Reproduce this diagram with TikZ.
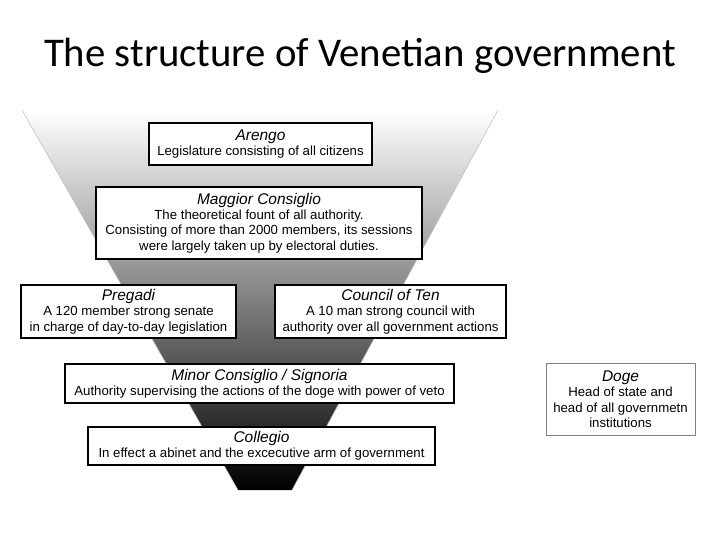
\documentclass[tikz,border=0pt]{standalone}
\usepackage{fontspec}
\setmainfont{Liberation Sans}
\newfontfamily\titlefont{Carlito}
\tikzset{
	box/.style={draw=black,fill=white,thick,align=center,inner sep=2pt,font=\fontsize{9.4}{11}\selectfont},
}
\newcommand{\boxhead}[1]{{\itshape\fontsize{11}{12}\selectfont #1}}

\begin{document}
\begin{tikzpicture}[x=0.025cm,y=-0.025cm]
		\useasboundingbox (0,0) rectangle (720,540);
		%title
		\node (title) at (360,56) {\titlefont\fontsize{29}{33}\selectfont The structure of Venetian government};
		%funnel
		\shade [top color=white, middle color=gray!70, bottom color=black] (22,110) -- (498,110) -- (292,490) -- (238,490) -- cycle;
		\draw [gray!50] (22,110) -- (238,490);
		\draw [gray!50] (498,110) -- (292,490);
		%boxes
		\node [box, minimum width=223*0.025cm, minimum height=42*0.025cm] (arengo) at (260.5,144) {\boxhead{Arengo}\\Legislature consisting of all citizens};
		\node [box, minimum width=326*0.025cm, minimum height=72*0.025cm] (maggior) at (259,223) {\boxhead{Maggior Consiglio}\\The theoretical fount of all authority.\\Consisting of more than 2000 members, its sessions\\were largely taken up by electoral duties.};
		\node [box, minimum width=215*0.025cm, minimum height=53*0.025cm] (pregadi) at (128.5,311.5) {\boxhead{Pregadi}\\A 120 member strong senate\\in charge of day-to-day legislation};
		\node [box, minimum width=231*0.025cm, minimum height=53*0.025cm] (council) at (390.5,311.5) {\boxhead{Council of Ten}\\A 10 man strong council with\\authority over all government actions};
		\node [box, minimum width=389*0.025cm, minimum height=39*0.025cm] (minor) at (259.5,383.5) {\boxhead{Minor Consiglio / Signoria}\\Authority supervising the actions of the doge with power of veto};
		\node [box, minimum width=347*0.025cm, minimum height=38*0.025cm] (collegio) at (261.5,446) {\boxhead{Collegio}\\In effect a abinet and the excecutive arm of government};
		\node [box, thin, draw=gray, minimum width=149*0.025cm, minimum height=72*0.025cm] (doge) at (620.5,399) {\boxhead{Doge}\\Head of state and\\head of all governmetn\\institutions};
	\end{tikzpicture}
\end{document}
